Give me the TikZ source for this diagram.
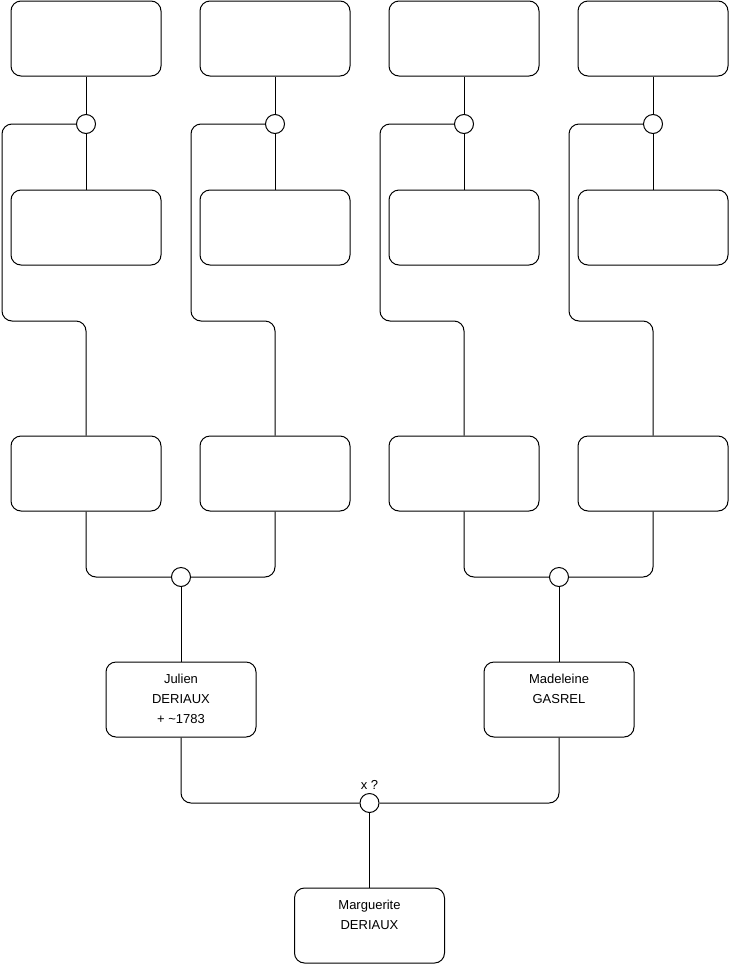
\documentclass[tikz,border=0pt]{standalone}
\usepackage{fontspec}
\setmainfont{Liberation Sans}
\begin{document}
\begin{tikzpicture}[x=1pt,y=-1pt,
  pbox/.style={draw, line width=1pt, rounded corners=10pt, minimum width=150pt, minimum height=75pt, inner sep=0pt},
  knot/.style={draw, line width=1pt, fill=white, circle, minimum size=19pt, inner sep=0pt},
  conn/.style={line width=1pt, rounded corners=10pt},
  ptext/.style={anchor=north, inner sep=0pt, align=center, font=\fontsize{13pt}{20pt}\selectfont}
]
\useasboundingbox (0,0) rectangle (740,975);
% top row
\node[pbox] (t1) at (86,38.5) {};
\node[pbox] (t2) at (275,38.5) {};
\node[pbox] (t3) at (464,38.5) {};
\node[pbox] (t4) at (653,38.5) {};
% second row
\node[pbox] (s1) at (86,227.5) {};
\node[pbox] (s2) at (275,227.5) {};
\node[pbox] (s3) at (464,227.5) {};
\node[pbox] (s4) at (653,227.5) {};
% third row
\node[pbox] (g1) at (86,473.5) {};
\node[pbox] (g2) at (275,473.5) {};
\node[pbox] (g3) at (464,473.5) {};
\node[pbox] (g4) at (653,473.5) {};
% persons
\node[pbox] (jul) at (181,699.5) {};
\node[ptext] (jult) at (181,673.4) {Julien\\DERIAUX\\+ \textasciitilde1783};
\node[pbox] (mad) at (559,699.5) {};
\node[ptext] (madt) at (559,673.4) {Madeleine\\GASREL};
\node[pbox] (mar) at (369.5,925.5) {};
\node[ptext] (mart) at (369.5,899.4) {Marguerite\\DERIAUX};
% knots
\node[knot] (c1) at (86,124) {};
\node[knot] (c2) at (275,124) {};
\node[knot] (c3) at (464,124) {};
\node[knot] (c4) at (653,124) {};
\node[knot] (c5) at (181,577) {};
\node[knot] (c6) at (559,577) {};
\node[knot] (c7) at (369.5,803) {};
\node[anchor=base, inner sep=0pt, font=\fontsize{13pt}{15pt}\selectfont] (xq) at (369.5,789.5) {x ?};
% bend coordinates
\coordinate (k1) at (2,321);
\coordinate (k2) at (191,321);
\coordinate (k3) at (380,321);
\coordinate (k4) at (569,321);
% upper connectors
\foreach \i in {1,2,3,4}{
  \draw[conn] (t\i) -- (c\i);
  \draw[conn] (c\i) -- (s\i);
  \draw[conn] (c\i.west) -| (k\i) -| (g\i.north);
}
% middle connectors
\draw[conn] (g1.south) |- (c5.west);
\draw[conn] (g2.south) |- (c5.east);
\draw[conn] (c5.south) -- (jul.north);
\draw[conn] (g3.south) |- (c6.west);
\draw[conn] (g4.south) |- (c6.east);
\draw[conn] (c6.south) -- (mad.north);
% bottom connectors
\draw[conn] (jul.south) |- (c7.west);
\draw[conn] (mad.south) |- (c7.east);
\draw[conn] (c7.south) -- (mar.north);
\end{tikzpicture}
\end{document}
